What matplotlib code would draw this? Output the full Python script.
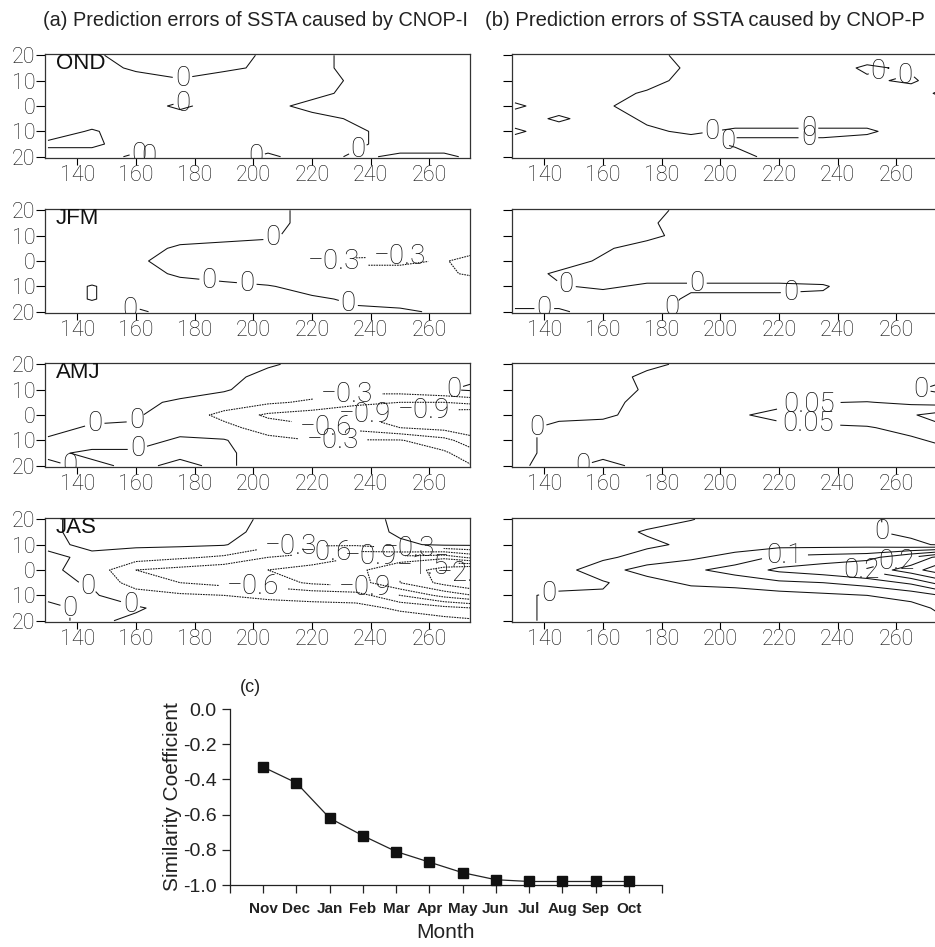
import numpy as np
import matplotlib
matplotlib.use('Agg')
import matplotlib.pyplot as plt

# grid of the SSTA error fields (lat rows from 20N to 20S)
lon = [130, 145, 160, 175, 190, 205, 220, 235, 250, 265, 275]
lat = [20, 15, 10, 5, 0, -5, -10, -15, -20]

seasons = ['OND', 'JFM', 'AMJ', 'JAS']

# (a) CNOP-I
err_i_ond = [
    [0.05, 0.02, -0.05, -0.05, -0.05, 0.02, 0.05, -0.05, -0.05, -0.05, -0.05],
    [0.05, 0.05, -0.02, -0.05, -0.02, 0.02, 0.05, -0.05, -0.05, -0.05, -0.05],
    [0.05, 0.05, 0.05, 0.01, 0.05, 0.05, 0.05, -0.02, -0.05, -0.05, -0.05],
    [0.05, 0.05, 0.05, 0.05, 0.05, 0.05, 0.05, -0.05, -0.05, -0.05, -0.05],
    [0.05, 0.05, 0.05, -0.02, 0.05, 0.05, -0.05, -0.05, -0.05, -0.05, -0.05],
    [0.05, 0.05, 0.05, 0.05, 0.05, 0.05, 0.05, -0.02, -0.05, -0.05, -0.05],
    [0.05, -0.01, 0.05, 0.05, 0.05, 0.05, 0.05, 0.02, -0.05, -0.05, -0.05],
    [-0.02, -0.02, 0.05, 0.02, 0.05, 0.05, 0.05, 0.02, -0.05, -0.05, -0.05],
    [0.05, 0.05, -0.02, 0.05, 0.05, -0.02, 0.05, -0.02, 0.02, 0.02, -0.02],
]
err_i_jfm = [
    [0.05, 0.05, 0.05, 0.05, 0.05, 0.05, -0.05, -0.05, -0.05, -0.05, -0.05],
    [0.05, 0.05, 0.05, 0.05, 0.05, 0.05, -0.05, -0.05, -0.05, -0.05, -0.05],
    [0.05, 0.05, 0.05, 0.05, 0.05, 0.02, -0.05, -0.1, -0.1, -0.1, -0.1],
    [0.05, 0.05, 0.05, -0.02, -0.05, -0.05, -0.1, -0.15, -0.2, -0.2, -0.2],
    [0.05, 0.05, 0.02, -0.05, -0.1, -0.15, -0.25, -0.35, -0.35, -0.28, -0.4],
    [0.05, 0.05, 0.05, -0.02, -0.05, -0.1, -0.15, -0.2, -0.2, -0.25, -0.35],
    [0.05, -0.006, 0.05, 0.05, 0.03, 0.01, -0.05, -0.1, -0.1, -0.1, -0.1],
    [0.05, -0.006, 0.05, 0.05, 0.05, 0.05, 0.02, -0.02, -0.05, -0.05, -0.05],
    [0.05, 0.05, -0.02, 0.05, 0.05, 0.05, 0.05, 0.02, 0.02, -0.02, -0.02],
]
err_i_amj = [
    [0.05, 0.05, 0.05, 0.05, 0.05, 0.02, -0.05, -0.05, -0.05, -0.05, -0.05],
    [0.05, 0.05, 0.05, 0.05, 0.05, -0.05, -0.05, -0.1, -0.1, -0.05, -0.05],
    [0.05, 0.05, 0.05, 0.05, 0.02, -0.1, -0.15, -0.2, -0.15, -0.02, 0.05],
    [0.05, 0.05, 0.03, -0.02, -0.1, -0.25, -0.35, -0.5, -0.6, -0.6, -0.5],
    [0.05, 0.05, 0.02, -0.1, -0.4, -0.65, -0.75, -0.9, -1.0, -1.1, -1.2],
    [0.05, -0.02, -0.02, -0.05, -0.2, -0.45, -0.55, -0.7, -0.9, -1.0, -1.1],
    [-0.02, -0.05, -0.05, 0.02, 0.02, -0.2, -0.3, -0.28, -0.28, -0.5, -0.8],
    [-0.02, 0.02, 0.02, 0.02, 0.02, -0.05, -0.1, -0.15, -0.15, -0.25, -0.5],
    [0.02, -0.02, 0.02, -0.02, 0.02, -0.05, -0.05, -0.05, -0.05, -0.1, -0.3],
]
err_i_jas = [
    [-0.05, 0.1, 0.1, 0.1, 0.1, -0.05, -0.1, -0.1, 0.05, 0.1, 0.1],
    [-0.05, 0.1, 0.1, 0.1, 0.1, -0.1, -0.15, -0.15, 0.05, 0.1, 0.1],
    [-0.05, 0.05, 0.05, 0.05, 0.02, -0.2, -0.25, -0.25, -0.05, 0.05, 0.05],
    [0.05, -0.05, -0.15, -0.25, -0.35, -0.6, -0.75, -0.9, -1.0, -1.1, -0.8],
    [0.05, -0.1, -0.6, -0.7, -0.8, -0.9, -1.0, -1.1, -1.5, -2.0, -2.2],
    [0.05, -0.02, -0.45, -0.6, -0.7, -0.75, -0.95, -1.05, -1.5, -1.9, -2.1],
    [0.05, 0.03, -0.15, -0.25, -0.3, -0.35, -0.4, -0.45, -0.9, -1.3, -1.5],
    [-0.05, 0.05, 0.03, -0.1, -0.15, -0.2, -0.2, -0.2, -0.35, -0.5, -0.6],
    [-0.05, 0.05, -0.05, -0.05, -0.1, -0.1, -0.1, -0.1, -0.15, -0.2, -0.25],
]

# (b) CNOP-P
err_p_ond = [
    [0.03, 0.03, 0.03, 0.03, -0.03, -0.03, -0.03, -0.03, -0.03, -0.03, -0.03],
    [0.03, 0.03, 0.03, 0.03, -0.01, -0.03, -0.03, -0.03, 0.01, -0.01, -0.03],
    [0.03, 0.03, 0.03, 0.03, -0.03, -0.03, -0.03, -0.03, -0.01, 0.01, -0.03],
    [0.03, 0.03, 0.03, -0.01, -0.03, -0.03, -0.03, -0.03, -0.03, -0.03, 0.01],
    [-0.01, 0.03, 0.01, -0.03, -0.03, -0.03, -0.03, -0.03, -0.03, -0.03, -0.03],
    [0.03, -0.01, 0.03, -0.01, -0.03, -0.03, -0.03, -0.03, -0.03, -0.03, -0.03],
    [-0.01, 0.03, 0.03, 0.01, -0.01, 0.01, 0.01, 0.01, 0.01, -0.03, -0.03],
    [0.03, 0.03, 0.03, 0.03, 0.03, -0.01, -0.01, -0.01, -0.03, -0.03, -0.03],
    [0.03, 0.01, 0.03, 0.03, 0.03, 0.03, -0.03, -0.03, -0.03, -0.03, -0.03],
]
err_p_jfm = [
    [0.03, 0.03, 0.03, 0.03, -0.03, -0.03, -0.03, -0.03, -0.03, -0.03, -0.03],
    [0.03, 0.03, 0.03, 0.01, -0.03, -0.03, -0.03, -0.03, -0.03, -0.03, -0.03],
    [0.03, 0.03, 0.03, 0.02, -0.03, -0.03, -0.03, -0.03, -0.03, -0.03, -0.03],
    [0.03, 0.03, 0.01, -0.03, -0.03, -0.03, -0.03, -0.03, -0.03, -0.03, -0.03],
    [0.03, 0.03, -0.01, -0.03, -0.03, -0.03, -0.03, -0.03, -0.03, -0.03, -0.03],
    [0.03, -0.01, -0.03, -0.03, -0.03, -0.03, -0.03, -0.03, -0.03, -0.03, -0.03],
    [0.03, 0.005, -0.01, 0.01, 0.01, 0.01, 0.01, 0.005, -0.03, -0.03, -0.03],
    [0.03, 0.03, 0.03, 0.03, -0.01, -0.01, -0.01, -0.01, -0.03, -0.03, -0.03],
    [-0.01, -0.01, 0.03, 0.03, -0.03, -0.03, -0.03, -0.03, -0.03, -0.03, -0.03],
]
err_p_amj = [
    [-0.02, -0.02, -0.02, -0.01, 0.01, 0.01, 0.01, 0.01, 0.01, 0.01, 0.01],
    [-0.02, -0.02, -0.02, 0.01, 0.01, 0.01, 0.01, 0.01, 0.01, 0.01, 0.01],
    [-0.02, -0.02, -0.02, 0.005, 0.01, 0.01, 0.01, 0.01, 0.01, 0.005, -0.01],
    [-0.02, -0.02, -0.01, 0.01, 0.01, 0.02, 0.03, 0.048, 0.052, 0.04, 0.03],
    [-0.02, -0.01, -0.005, 0.01, 0.02, 0.04, 0.07, 0.08, 0.09, 0.095, 0.12],
    [-0.01, 0.01, 0.01, 0.01, 0.01, 0.02, 0.03, 0.04, 0.045, 0.07, 0.09],
    [-0.01, 0.01, 0.01, 0.01, 0.01, 0.01, 0.02, 0.02, 0.03, 0.04, 0.06],
    [-0.01, 0.01, 0.01, 0.01, 0.01, 0.01, 0.01, 0.01, 0.02, 0.02, 0.03],
    [-0.005, 0.01, -0.01, 0.01, 0.01, 0.01, 0.01, 0.01, 0.01, 0.01, 0.02],
]
err_p_jas = [
    [-0.02, -0.02, -0.02, -0.02, -0.001, 0.01, 0.01, 0.01, 0.005, -0.01, -0.01],
    [-0.02, -0.02, -0.02, 0.005, 0.01, 0.01, 0.01, 0.01, 0.005, -0.01, -0.01],
    [-0.02, -0.02, -0.02, -0.01, 0.01, 0.02, 0.03, 0.03, 0.03, 0.01, -0.005],
    [-0.02, -0.02, -0.01, 0.02, 0.04, 0.07, 0.11, 0.12, 0.13, 0.2, 0.27],
    [-0.02, -0.02, 0.03, 0.07, 0.09, 0.12, 0.16, 0.18, 0.21, 0.28, 0.33],
    [-0.02, -0.02, -0.005, 0.03, 0.06, 0.07, 0.09, 0.1, 0.12, 0.16, 0.22],
    [-0.01, 0.01, 0.005, 0.02, 0.02, 0.02, 0.03, 0.04, 0.05, 0.07, 0.1],
    [-0.01, 0.01, 0.01, 0.01, 0.01, 0.01, 0.02, 0.02, 0.02, 0.03, 0.06],
    [-0.01, 0.01, 0.01, 0.01, 0.01, 0.01, 0.01, 0.01, 0.01, 0.02, 0.04],
]

levels_i = [-2.4, -2.1, -1.8, -1.5, -1.2, -0.9, -0.6, -0.3, 0, 0.3]
levels_p = [0, 0.05, 0.1, 0.15, 0.2, 0.25, 0.3]

# (c) similarity coefficient
months = ['Nov', 'Dec', 'Jan', 'Feb', 'Mar', 'Apr', 'May', 'Jun', 'Jul', 'Aug', 'Sep', 'Oct']
similarity = [-0.33, -0.42, -0.62, -0.72, -0.81, -0.87, -0.93, -0.97, -0.98, -0.98, -0.98, -0.98]

# label spots for the contour values (lon, lat)
labels_i = [
    [(176, 10), (176, 1), (170, -13), (163, -19), (197, -19), (236, -18)],
    [(207, 8), (185, -7), (232, -18), (158, -19), (197, -19), (250, 1), (226, -1)],
    [(146, -5), (163, -6), (140, -19), (162, -19), (268, 11), (232, 8), (227, -9),
     (225, -3), (238, 0), (258, 1)],
    [(143, -8), (140, -15), (158, -14), (253, 10), (213, 8), (225, 5), (200, -7),
     (238, -7), (240, 4), (258, 1), (272, -1)],
]
labels_p = [
    [(197, -8), (202, -13), (230, -8), (230, -13), (254, 13), (263, 12)],
    [(140, -15), (147, -11), (180, -15), (192, -8), (224, -13)],
    [(135, -4), (152, -16), (267, 8), (230, 5), (230, -3)],
    [(141, -6), (254, 13), (222, 5), (248, -1), (260, 3)],
]

W, H = 935, 947
fig = plt.figure(figsize=(W / 100, H / 100), dpi=100)
thin = ['Roboto', 'DejaVu Sans']


def px_axes(left, top, width, height):
    return fig.add_axes([left / W, 1 - (top + height) / H, width / W, height / H])


def fmt(v):
    return f'{v:g}'.replace('-', '\u2212')


def draw_panel(ax, field, levels, spots, season, ylab):
    z = np.array(field)
    cs = ax.contour(lon, lat, z, levels=levels, colors='#111111', linewidths=0.75)
    cs.set_linestyle(['solid' if l >= 0 else (0, (1.6, 0.9)) for l in cs.levels])
    txt = ax.clabel(cs, manual=spots, inline=True, inline_spacing=1, fontsize=20, fmt=fmt)
    for t in txt:
        t.set_rotation(0)
        t.set_fontfamily(thin)
        t.set_fontweight('light')
        t.set_color('#111111')
    ax.set_xlim(129, 274)
    ax.set_ylim(-20.5, 20.5)
    ax.set_xticks(range(140, 261, 20))
    ax.set_yticks([-20, -10, 0, 10, 20])
    if ylab:
        ax.set_yticklabels(['20', '10', '0', '10', '20'])
    else:
        ax.set_yticklabels([])
    ax.tick_params(axis='x', direction='out', length=5, width=0.8, pad=0, labelsize=15.5)
    ax.tick_params(axis='y', direction='out', length=6.5, width=0.8, pad=0.5, labelsize=15.5)
    for lab in ax.get_xticklabels() + ax.get_yticklabels():
        lab.set_fontfamily(thin)
        lab.set_fontweight('light')
        lab.set_color('#111111')
    for s in ax.spines.values():
        s.set_linewidth(0.9)
        s.set_color('#333333')
    if season:
        ax.text(0.025, 1.01, season, transform=ax.transAxes, ha='left', va='top',
                fontsize=16, family=['Liberation Sans', 'DejaVu Sans'], color='#111111',
                zorder=5)


tops = [54, 209, 363, 518]
fields_i = [err_i_ond, err_i_jfm, err_i_amj, err_i_jas]
fields_p = [err_p_ond, err_p_jfm, err_p_amj, err_p_jas]
for r in range(4):
    ax_a = px_axes(45, tops[r], 425.5, 104)
    draw_panel(ax_a, fields_i[r], levels_i, labels_i[r], seasons[r], True)
    ax_b = px_axes(512, tops[r], 425.5, 104)
    draw_panel(ax_b, fields_p[r], levels_p, labels_p[r], None, False)

sans = ['Liberation Sans', 'DejaVu Sans']
fig.text(43 / W, 1 - 20 / H, '(a) Prediction errors of SSTA caused by CNOP-I',
         ha='left', va='center', fontsize=14.3, family=sans, color='#222222')
fig.text(485 / W, 1 - 20 / H, '(b) Prediction errors of SSTA caused by CNOP-P',
         ha='left', va='center', fontsize=14.6, family=sans, color='#222222')

# (c)
ax_c = px_axes(230, 709, 432, 176)
x = np.arange(1, len(months) + 1)
ax_c.plot(x, similarity, '-', color='#222222', lw=0.9, clip_on=False)
ax_c.plot(x, similarity, 's', color='#111111', ms=7.5, clip_on=False, zorder=4)
ax_c.set_xlim(0, 13)
ax_c.set_ylim(-1.0, 0.0)
ax_c.set_xticks(range(0, 14))
ax_c.set_xticklabels([''] + months + [''])
yt = np.arange(-1.0, 0.01, 0.2)
ax_c.set_yticks(yt)
ax_c.set_yticklabels([f'{v:.1f}'.replace('-0.0', '0.0') for v in yt])
ax_c.spines['top'].set_visible(False)
ax_c.spines['right'].set_visible(False)
for s in ax_c.spines.values():
    s.set_linewidth(0.9)
    s.set_color('#222222')
ax_c.tick_params(direction='out', length=6, width=0.9, color='#222222')
ax_c.tick_params(axis='x', pad=6)
for lab in ax_c.get_xticklabels():
    lab.set_fontfamily(sans)
    lab.set_fontweight('bold')
    lab.set_fontsize(11)
    lab.set_color('#222222')
for lab in ax_c.get_yticklabels():
    lab.set_fontfamily(sans)
    lab.set_fontsize(14)
    lab.set_color('#222222')
ax_c.set_xlabel('Month', fontsize=15, family=sans, color='#222222', labelpad=5)
ax_c.set_ylabel('Similarity Coefficient', fontsize=15, family=sans, color='#222222')
ax_c.yaxis.set_label_coords(-0.11, 0.5)
fig.text(240 / W, 1 - 688 / H, '(c)', ha='left', va='center', fontsize=13,
         family=sans, color='#222222')

fig.savefig('out.png', dpi=100)
